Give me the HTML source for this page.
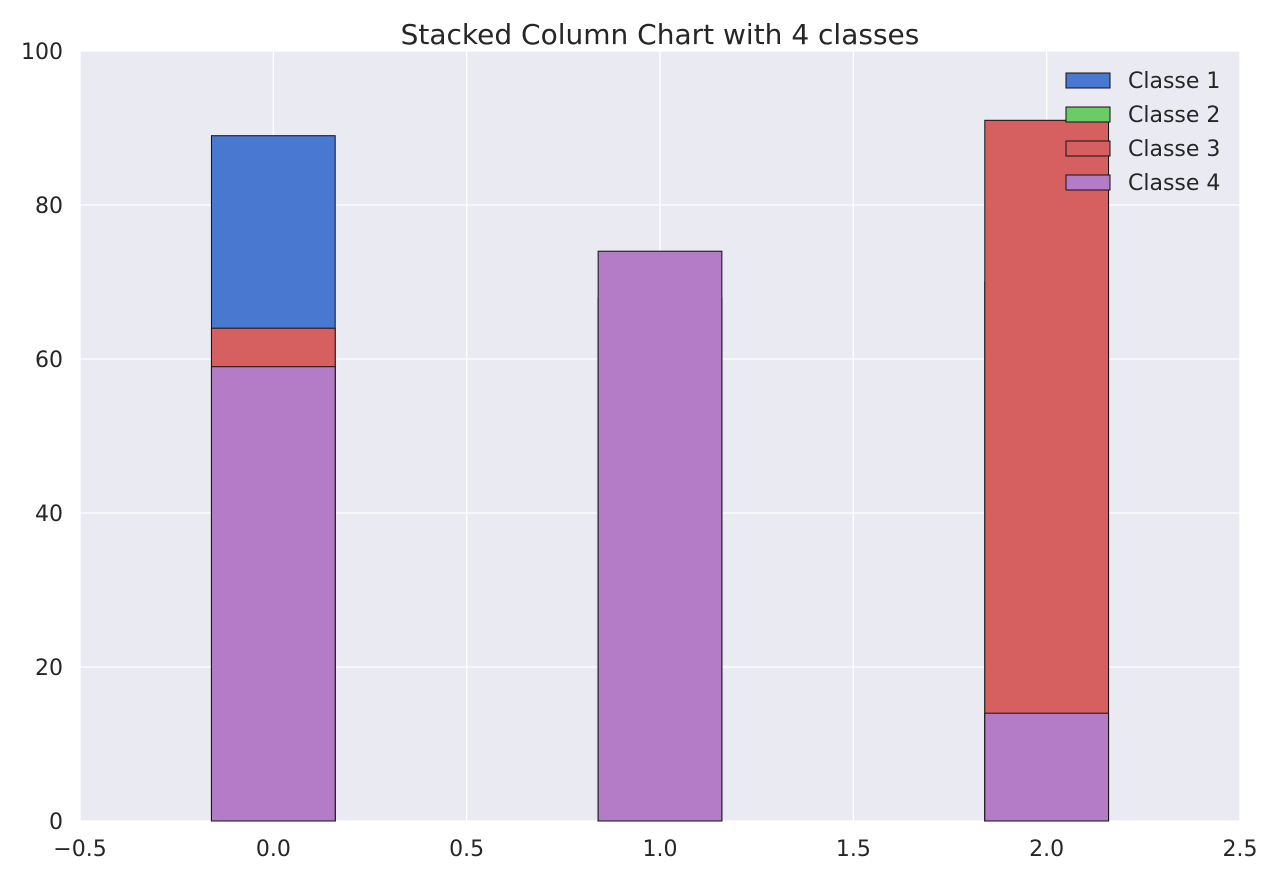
<!DOCTYPE html>
<html><head><meta charset="utf-8"><style>
body{margin:0;background:#fff;}
svg{display:block;font-family:"DejaVu Sans","Liberation Sans",sans-serif;}
</style></head><body>
<svg id="chart" width="1280" height="880">
<rect x="80" y="51" width="1160" height="770" fill="#eaeaf2"/>
<g id="grid"></g><g id="bars"></g><g id="axes"></g><g id="legend"></g>
<text x="660" y="44" text-anchor="middle" font-size="28" fill="#262626">Stacked Column Chart with 4 classes</text>
</svg>
<script>
const categories=[0,1,2];
const seriesNames=["Classe 1","Classe 2","Classe 3","Classe 4"];
const seriesColors=["#4878d0","#6acc64","#d65f5f","#b47cc7"];
const classe1=[89,68,70];
const classe2=[0,0,0];
const classe3=[64,0,91];
const classe4=[59,74,14];
const xTicks=[-0.5,0,0.5,1,1.5,2,2.5];
const xTickLabels=["\u22120.5","0.0","0.5","1.0","1.5","2.0","2.5"];
const yTicks=[0,20,40,60,80,100];
const barWidth=0.32;
const NS="http://www.w3.org/2000/svg";
const X=v=>80+(v+0.5)/3*1160;
const Y=v=>821-v/100*770;
function mk(tag,attrs,parent){const e=document.createElementNS(NS,tag);for(const k in attrs)e.setAttribute(k,attrs[k]);document.getElementById(parent).appendChild(e);return e;}
xTicks.forEach((t,i)=>{
 const l=mk('line',{x1:X(t),x2:X(t),y1:51,y2:821,stroke:'#fff','stroke-width':1.3},'grid');
 
 
 const tx=mk('text',{x:X(t),y:856,'text-anchor':'middle','font-size':22,fill:'#262626'},'axes');
 tx.textContent=xTickLabels[i];
 
 
});
yTicks.forEach(t=>{
 const l=mk('line',{x1:80,x2:1240,y1:Y(t),y2:Y(t),stroke:'#fff','stroke-width':1.3},'grid');
 
 
 const tx=mk('text',{x:63,y:Y(t)+8,'text-anchor':'end','font-size':22,fill:'#262626'},'axes');
 tx.textContent=String(t);
 
 
});
const allSeries=[classe1,classe2,classe3,classe4];
allSeries.forEach((s,si)=>{
 s.forEach((v,ci)=>{
  const c=categories[ci];
  const r=mk('rect',{x:X(c-barWidth/2),y:Y(v),width:X(c+barWidth/2)-X(c-barWidth/2),height:Y(0)-Y(v),fill:seriesColors[si],stroke:'#111','stroke-width':1},'bars');
  
  
 });
});
seriesNames.forEach((n,i)=>{
 const y=73+i*34;
 const r=mk('rect',{x:1066,y:y,width:44,height:15,fill:seriesColors[i],stroke:'#111','stroke-width':1},'legend');
 
 
 const t=mk('text',{x:1128,y:y+15,'font-size':22,fill:'#262626'},'legend');
 t.textContent=n;
 
 
});
</script>
</body></html>
